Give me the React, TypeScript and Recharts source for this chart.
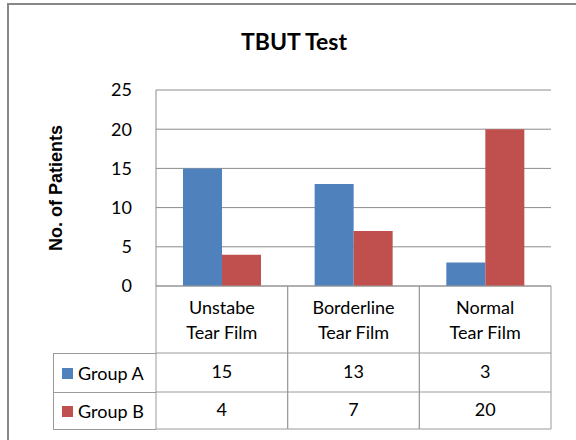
import { Bar, BarChart, CartesianGrid, Legend, XAxis, YAxis } from "recharts";

const categories = ["Unstabe\nTear Film", "Borderline\nTear Film", "Normal\nTear Film"];
const groupA = [15, 13, 3];
const groupB = [4, 7, 20];
const yTicks = [0, 5, 10, 15, 20, 25];

const data = categories.map((name, i) => ({ name, groupA: groupA[i], groupB: groupB[i] }));

const W = 576;
const H = 440;
const margin = { top: 90, right: 25, bottom: 11, left: 30 };
const Y_W = 126;
const X_H = 143;
const colW = (W - margin.left - Y_W - margin.right) / categories.length;

const FONT = "Lato, 'Open Sans', sans-serif";
const LINE = "#9a9a9a";
const GRID = "#8c8c8c";

// one column of the data table under each category
const TableTick = (props: any) => {
  const { x, y, index, payload } = props;
  const left = x - colW / 2;
  const right = x + colW / 2;
  const [l1, l2] = String(payload.value).split("\n");
  const txt = { fontFamily: FONT, fontSize: 18, fill: "#000", textAnchor: "middle" as const };
  return (
    <g>
      <line x1={left} x2={left} y1={y} y2={y + X_H} stroke={LINE} />
      <line x1={right} x2={right} y1={y} y2={y + X_H} stroke={LINE} />
      <line x1={left} x2={right} y1={y + 67} y2={y + 67} stroke={LINE} />
      <line x1={left} x2={right} y1={y + 106} y2={y + 106} stroke={LINE} />
      <line x1={left} x2={right} y1={y + X_H} y2={y + X_H} stroke={LINE} />
      <text x={x} y={y + 28} {...txt}>{l1}</text>
      <text x={x} y={y + 53} {...txt}>{l2}</text>
      <text x={x} y={y + 92} {...txt}>{groupA[index]}</text>
      <text x={x} y={y + 130} {...txt}>{groupB[index]}</text>
    </g>
  );
};

const TableLegend = (props: any) => {
  const items = props.payload || [];
  return (
    <div
      style={{
        boxSizing: "border-box",
        width: 103,
        height: 77,
        borderLeft: `1px solid ${LINE}`,
        fontFamily: FONT,
        fontSize: 18,
      }}
    >
      {items.map((it: any, i: number) => (
        <div
          key={it.value}
          style={{
            boxSizing: "border-box",
            height: i === 0 ? 39 : 38,
            borderTop: `1px solid ${LINE}`,
            borderBottom: i === items.length - 1 ? `1px solid ${LINE}` : undefined,
            display: "flex",
            alignItems: "center",
            paddingLeft: 8,
          }}
        >
          <span style={{ display: "inline-block", width: 11, height: 11, background: it.color, marginRight: 5 }} />
          <span>{it.value}</span>
        </div>
      ))}
    </div>
  );
};

const YLabel = (props: any) => {
  const vb = props.viewBox || {};
  const cx = vb.x + 32;
  const cy = vb.y + vb.height / 2;
  return (
    <text
      x={cx}
      y={cy}
      transform={`rotate(-90, ${cx}, ${cy})`}
      textAnchor="middle"
      fontFamily="'Liberation Sans', Arial, sans-serif"
      fontWeight="bold"
      fontSize={18}
      fill="#000"
    >
      No. of Patients
    </text>
  );
};

export default function App() {
  return (
    <div style={{ position: "absolute", left: 0, top: 0, width: W, height: H, background: "#fff" }}>
      <div
        style={{
          position: "absolute",
          left: 7,
          top: 3,
          width: W - 7,
          height: H - 3,
          boxSizing: "border-box",
          borderLeft: "2px solid #888",
          borderTop: "2px solid #888",
        }}
      />
      <div
        style={{
          position: "absolute",
          left: 12,
          top: 30,
          width: 564,
          textAlign: "center",
          fontFamily: FONT,
          fontWeight: "bold",
          fontSize: 23,
          lineHeight: "23px",
        }}
      >
        TBUT Test
      </div>
      <BarChart width={W} height={H} data={data} margin={margin} barCategoryGap="20.5%" barGap={0}>
        <CartesianGrid vertical={false} stroke={GRID} />
        <XAxis
          dataKey="name"
          height={X_H}
          tickLine={false}
          axisLine={{ stroke: LINE }}
          tickSize={0}
          tickMargin={0}
          interval={0}
          tick={<TableTick />}
        />
        <YAxis
          width={Y_W}
          domain={[0, 25]}
          ticks={yTicks}
          tickLine={false}
          tickSize={0}
          tickMargin={24}
          axisLine={{ stroke: GRID }}
          tick={{ fontFamily: FONT, fontSize: 18, fill: "#000" }}
          label={<YLabel />}
        />
        <Legend
          verticalAlign="middle"
          layout="horizontal"
          content={<TableLegend />}
          wrapperStyle={{ left: 53, top: 353, width: 103, height: 77 }}
        />
        <Bar dataKey="groupA" name="Group A" fill="#4F81BD" isAnimationActive={false} />
        <Bar dataKey="groupB" name="Group B" fill="#C0504D" isAnimationActive={false} />
      </BarChart>
    </div>
  );
}
